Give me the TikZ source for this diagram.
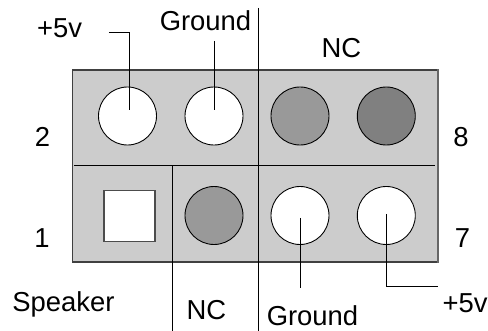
\documentclass[tikz,border=0pt]{standalone}
\usepackage{fontspec}
\setmainfont{Liberation Sans}
\definecolor{panelgray}{HTML}{CCCCCC}
\definecolor{pinmid}{HTML}{999999}
\definecolor{pindark}{HTML}{808080}
\tikzset{
	label text/.style={inner sep=0pt, anchor=base, font=\fontsize{15.6}{18}\selectfont},
	pin round/.style={circle, draw=black, line width=0.5pt, fill=white, inner sep=0pt, minimum size=1.16cm},
	pin square/.style={rectangle, draw=black!70, line width=0.7pt, fill=white, inner sep=0pt, minimum size=1.02cm},
	wire/.style={black, line width=0.5pt}
}
\begin{document}
\begin{tikzpicture}[scale=0.2]
		\useasboundingbox (0,0) rectangle (48.8,-33.1);
		% header block
		\node [rectangle, draw=black!75, line width=0.6pt, fill=panelgray, inner sep=0pt, minimum width=7.29cm, minimum height=3.84cm] (panel) at (25.48,-16.6) {};
		\draw [black!60, line width=1.2pt] (panel.north east) -- (panel.south east);
		\coordinate (midleft) at (7.4,-16.55);
		\coordinate (midright) at (43.5,-16.55);
		\draw [wire] (midleft) -- (midright);
		% dividers
		\coordinate (divtop) at (25.85,-0.8);
		\coordinate (divbot) at (25.85,-33.1);
		\draw [wire] (divtop) -- (divbot);
		\coordinate (spktop) at (17.25,-16.55);
		\coordinate (spkbot) at (17.25,-33.1);
		\draw [wire] (spktop) -- (spkbot);
		% upper row
		\node [pin round] (pintwo) at (12.75,-11.6) {};
		\node [pin round] (pinfour) at (21.4,-11.6) {};
		\node [pin round, fill=pinmid] (pinsix) at (30,-11.6) {};
		\node [pin round, fill=pindark] (pineight) at (38.63,-11.6) {};
		% lower row
		\node [pin square] (pinone) at (12.95,-21.58) {};
		\node [pin round, fill=pinmid] (pinthree) at (21.4,-21.55) {};
		\node [pin round] (pinfive) at (30,-21.55) {};
		\node [pin round] (pinseven) at (38.63,-21.55) {};
		% labels
		\node [label text] (plustop) at (5.95,-3.8) {+5v};
		\node [label text] (gndtop) at (20.55,-3.1) {Ground};
		\node [label text] (nctop) at (34.15,-5.8) {NC};
		\node [label text] (numtwo) at (4.25,-14.65) {2};
		\node [label text] (numeight) at (46.1,-14.65) {8};
		\node [label text] (numone) at (4.2,-24.8) {1};
		\node [label text] (numseven) at (46.25,-24.8) {7};
		\node [label text] (speaker) at (6.35,-31.2) {Speaker};
		\node [label text] (ncbot) at (20.65,-32) {NC};
		\node [label text] (gndbot) at (31.25,-32.6) {Ground};
		\node [label text] (plusbot) at (46.5,-31.3) {+5v};
		% leads
		\coordinate (leadplus) at (10.9,-3.25);
		\coordinate (leadplusend) at (12.95,-11);
		\draw [wire] (leadplus) -| (leadplusend);
		\coordinate (leadgnd) at (21.45,-4.1);
		\coordinate (leadgndend) at (21.45,-11);
		\draw [wire] (leadgnd) -- (leadgndend);
		\coordinate (leadlow) at (30.05,-21.8);
		\coordinate (leadlowend) at (30.05,-28.8);
		\draw [wire] (leadlow) -- (leadlowend);
		\coordinate (leadfive) at (38.65,-21.4);
		\coordinate (leadfiveend) at (43.8,-28.65);
		\draw [wire] (leadfive) |- (leadfiveend);
\end{tikzpicture}
\end{document}
